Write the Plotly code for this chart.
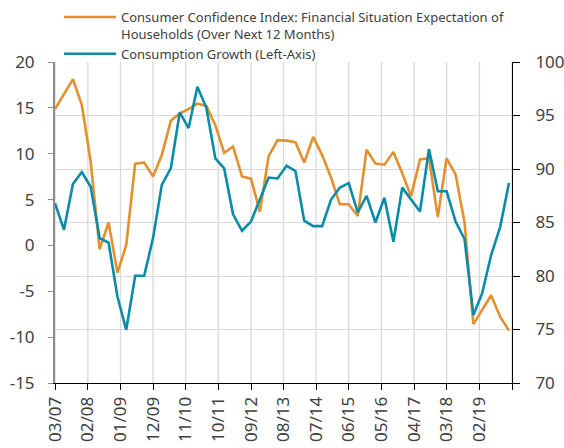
import pandas as pd
import plotly.graph_objects as go

# Quarterly observations, starting 03/2007
start_date = "2007-03-01"
n_points = 52

# Consumer Confidence Index: Financial Situation Expectation (right axis)
confidence = [95.6, 97.0, 98.4, 96.0, 90.7, 82.5, 85.0, 80.3, 82.9, 90.5,
              90.6, 89.3, 91.3, 94.5, 95.2, 95.6, 96.1, 95.9, 94.1, 91.5,
              92.1, 89.3, 89.1, 86.0, 91.2, 92.7, 92.65, 92.5, 90.6, 93.0,
              91.3, 89.2, 86.7, 86.7, 85.6, 91.8, 90.5, 90.4, 91.6, 89.6,
              87.45, 90.9, 91.0, 85.5, 91.0, 89.5, 85.0, 75.5, 76.9, 78.2,
              76.2, 74.9]

# Consumption growth (left axis)
consumption = [4.6, 1.7, 6.7, 8.0, 6.4, 0.8, 0.3, -5.6, -9.2, -3.3,
               -3.3, 0.8, 6.6, 8.4, 14.5, 12.8, 17.3, 15.0, 9.5, 8.4,
               3.4, 1.6, 2.6, 5.1, 7.4, 7.3, 8.7, 8.1, 2.7, 2.1,
               2.1, 5.0, 6.3, 6.8, 3.6, 5.4, 2.5, 5.2, 0.4, 6.3,
               5.0, 3.7, 10.5, 5.9, 5.9, 2.6, 0.7, -7.6, -5.2, -1.05,
               2.0, 6.8]

x_tick_labels = ["03/07", "02/08", "01/09", "12/09", "11/10", "10/11", "09/12",
                 "08/13", "07/14", "06/15", "05/16", "04/17", "03/18", "02/19"]
x_end = "2020-01-01"

left_tick_vals = [-15, -10, -5, 0, 5, 10, 15, 20]
left_tick_labels = ["-15", "-10", "-5", "0", "5", "10", "15", "20"]
right_tick_vals = [70, 75, 80, 85, 90, 95, 100]
right_tick_labels = ["70", "75", "80", "85", "90", "95", "100"]

left_range = [-15, 20]
right_range = [70, 100]

dates = pd.date_range(start_date, periods=n_points, freq="3MS")
tick_vals = [f"20{lab[3:]}-{lab[:2]}-01" for lab in x_tick_labels]
grid_vals = tick_vals + [x_end]

ORANGE = "#E2912E"
BLUE = "#0A8CA9"
TXT = "#404040"
FONT = "Noto Sans"

fig = go.Figure()
fig.add_trace(go.Scatter(
    x=dates, y=confidence, mode="lines", yaxis="y",
    name="Consumer Confidence Index: Financial Situation Expectation of<br>Households (Over Next 12 Months)",
    line=dict(color=ORANGE, width=2.6),
))
fig.add_trace(go.Scatter(
    x=dates, y=consumption, mode="lines", yaxis="y2",
    name="Consumption Growth (Left-Axis)",
    line=dict(color=BLUE, width=2.6),
))

fig.update_layout(
    width=564, height=448,
    margin=dict(l=55, r=52, t=62, b=65, autoexpand=False),
    paper_bgcolor="white", plot_bgcolor="white",
    font=dict(family=FONT, color=TXT),
    showlegend=True,
    legend=dict(
        x=(59 - 55) / 457, y=1 + (62 - 2) / 321, xanchor="left", yanchor="top",
        font=dict(size=13, color=TXT, family=FONT),
        bgcolor="rgba(0,0,0,0)", borderwidth=0,
        valign="top", itemwidth=52, tracegroupgap=0,
    ),
    xaxis=dict(
        type="date", range=[start_date, x_end],
        tickvals=grid_vals, ticktext=x_tick_labels + [""], tickangle=-90,
        ticks="outside", ticklen=6, tickcolor="black", tickwidth=1,
        showline=True, linecolor="black", linewidth=1,
        showgrid=False, zeroline=False,
        tickfont=dict(size=17, color=TXT, family=FONT),
    ),
    yaxis=dict(
        side="right", range=right_range,
        tickvals=right_tick_vals, ticktext=right_tick_labels,
        showgrid=True, gridcolor="#D9D9D9", gridwidth=1.3,
        showline=True, linecolor="black", linewidth=1,
        ticks="outside", ticklen=7, tickcolor="black",
        zeroline=False, ticklabelstandoff=12,
        tickfont=dict(size=17, color=TXT, family=FONT),
    ),
    yaxis2=dict(
        side="left", overlaying="y", range=left_range,
        tickvals=left_tick_vals, ticktext=left_tick_labels,
        showgrid=False, zeroline=False,
        showline=True, linecolor="#8C8C8C", linewidth=2,
        ticks="outside", ticklen=5, tickcolor="#8C8C8C",
        ticklabelstandoff=10,
        tickfont=dict(size=17, color=TXT, family=FONT),
    ),
)

# vertical gridlines at the x tick positions
for gv in grid_vals:
    fig.add_shape(type="line", xref="x", yref="paper", x0=gv, x1=gv, y0=0, y1=1,
                  line=dict(color="#D9D9D9", width=1.3), layer="below")

fig.write_html("out.html", config={"displayModeBar": False},
               post_script="document.body.style.margin='0px';")
